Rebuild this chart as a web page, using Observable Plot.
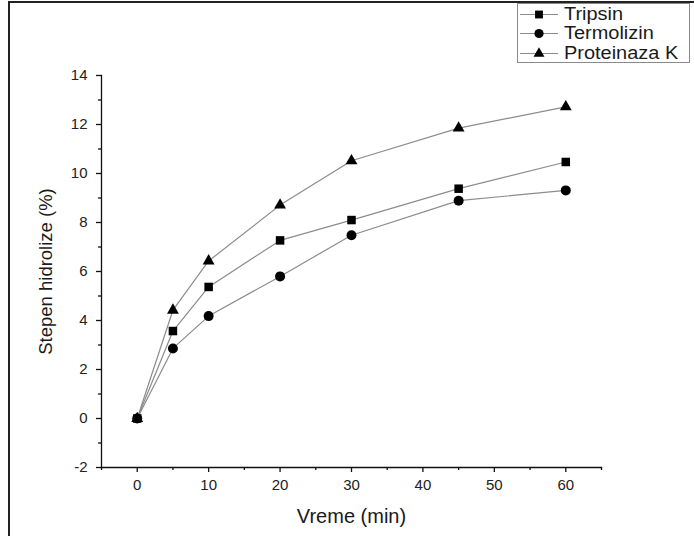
<!DOCTYPE html>
<html>
<head>
<meta charset="utf-8">
<script src="https://cdn.jsdelivr.net/npm/d3@7"></script>
<script src="https://cdn.jsdelivr.net/npm/@observablehq/plot@0.6"></script>
<style>
  html, body { margin: 0; padding: 0; background: #fff; }
  #wrap { position: relative; width: 694px; height: 536px; overflow: hidden; font-family: "Liberation Sans", Arial, sans-serif; }
  #border { position: absolute; left: 8px; top: 1px; width: 700px; height: 600px; border-left: 2px solid #222; border-top: 2px solid #222; box-sizing: border-box; pointer-events: none; }
  #legend { position: absolute; left: 517px; top: 3px; width: 173px; height: 60px; border: 1px solid #8a8a8a; background: #fff; box-sizing: border-box; }
  .row { position: absolute; left: 0; height: 19px; display: flex; align-items: center; font-size: 17.5px; line-height: 19px; color: #1a1a1a; white-space: nowrap; }
  .row svg { margin-left: 2px; margin-right: 6px; }
  .row span { display: inline-block; transform: scaleX(1.14); transform-origin: left center; }
</style>
</head>
<body>
<div id="wrap"><div id="chart"></div><div id="border"></div><div id="legend"></div></div>
<script>
const times = [0, 5, 10, 20, 30, 45, 60];
const seriesNames = ["Tripsin", "Termolizin", "Proteinaza K"];
const tripsin = [0, 3.57, 5.37, 7.27, 8.10, 9.38, 10.47];
const termolizin = [0, 2.86, 4.18, 5.80, 7.48, 8.89, 9.31];
const proteinaza = [0, 4.42, 6.43, 8.71, 10.52, 11.85, 12.72];
const xTicks = [0, 10, 20, 30, 40, 50, 60];
const xMinor = [-5, 5, 15, 25, 35, 45, 55, 65];
const yTicks = [-2, 0, 2, 4, 6, 8, 10, 12, 14];
const yMinor = [-1, 1, 3, 5, 7, 9, 11, 13];
const xLabel = "Vreme (min)";
const yLabel = "Stepen hidrolize (%)";

const symbols = {"Tripsin": "square", "Termolizin": "circle", "Proteinaza K": "triangle"};
const radii = {"Tripsin": 4.8, "Termolizin": 5, "Proteinaza K": 4.4};
const valuesBy = {"Tripsin": tripsin, "Termolizin": termolizin, "Proteinaza K": proteinaza};

const data = seriesNames.flatMap(s => times.map((t, i) => ({series: s, t, v: valuesBy[s][i]})));

const font = "Liberation Sans, Arial, sans-serif";
const fmt = d => String(d);

const plot = Plot.plot({
  width: 694,
  height: 536,
  marginLeft: 101,
  marginRight: 93,
  marginTop: 75,
  marginBottom: 69,
  style: {fontFamily: font, background: "transparent", overflow: "visible"},
  x: {domain: [-5, 65]},
  y: {domain: [-2, 14]},
  marks: [
    Plot.frame({anchor: "left", stroke: "#111", strokeWidth: 1.3}),
    Plot.frame({anchor: "bottom", stroke: "#111", strokeWidth: 1.3}),
    Plot.axisX({ticks: xTicks, tickFormat: fmt, tickSize: 5, tickPadding: 7, fontSize: 15, fill: "#222", stroke: "#111", strokeWidth: 1.3, label: null}),
    Plot.axisX({ticks: xMinor, tickSize: 3, tickFormat: () => "", stroke: "#111", strokeWidth: 1.3, label: null}),
    Plot.axisY({ticks: yTicks, tickFormat: fmt, tickSize: 5, tickPadding: 9, fontSize: 15, fill: "#222", stroke: "#111", strokeWidth: 1.3, label: null}),
    Plot.axisY({ticks: yMinor, tickSize: 3, tickFormat: () => "", stroke: "#111", strokeWidth: 1.3, label: null}),
    Plot.line(data, {x: "t", y: "v", z: "series", stroke: "#8c8c8c", strokeWidth: 1.2}),
    ...seriesNames.map(s => Plot.dot(data.filter(d => d.series === s), {x: "t", y: "v", symbol: () => symbols[s], r: radii[s], fill: "#000", stroke: "none"})),
    Plot.text([xLabel], {frameAnchor: "bottom", dy: 55, fontSize: 20, fill: "#1a1a1a", textAnchor: "middle"}),
    Plot.text([yLabel], {frameAnchor: "left", dx: -55, rotate: -90, fontSize: 18.5, fill: "#1a1a1a", textAnchor: "middle"})
  ]
});
document.getElementById("chart").appendChild(plot);

// legend
const legend = document.getElementById("legend");
seriesNames.forEach((s, i) => {
  const row = document.createElement("div");
  row.className = "row";
  row.style.top = (i * 19.5 + 0.5) + "px";
  const sym = d3.symbol().type({square: d3.symbolSquare, circle: d3.symbolCircle, triangle: d3.symbolTriangle}[symbols[s]]).size(Math.PI * radii[s] * radii[s] * 0.85)();
  row.innerHTML = `<svg width="38" height="19"><line x1="0" x2="38" y1="9.5" y2="9.5" stroke="#8c8c8c" stroke-width="1.2"/><path d="${sym}" transform="translate(19,9.5)" fill="#000"/></svg><span>${s}</span>`;
  legend.appendChild(row);
});
</script>
</body>
</html>
